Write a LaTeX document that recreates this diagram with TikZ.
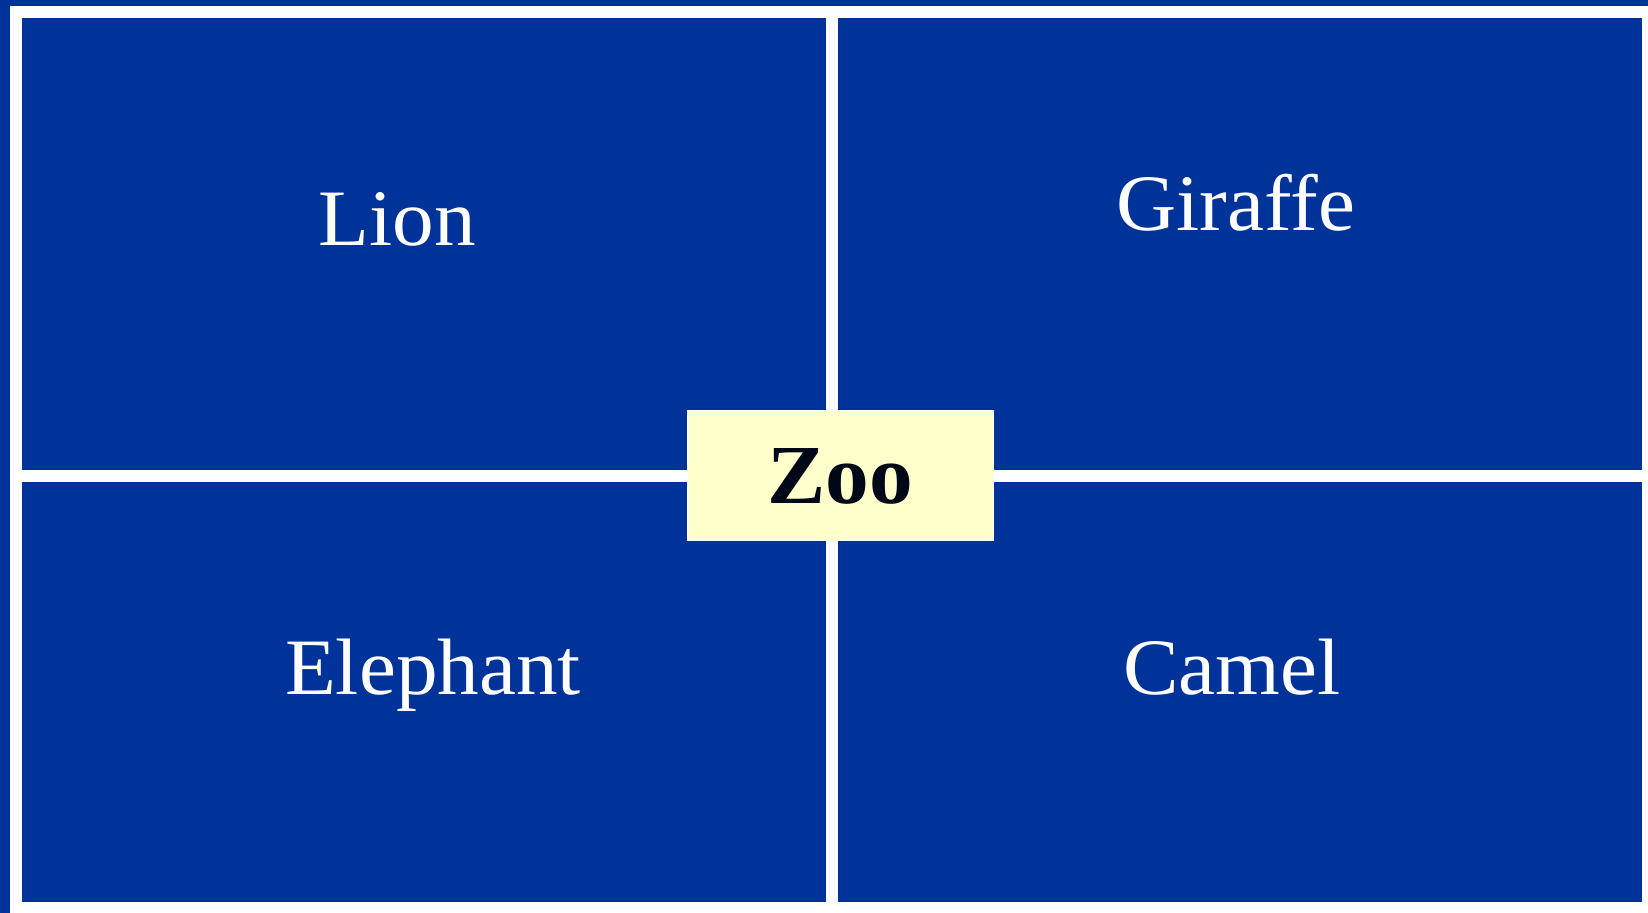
\documentclass[tikz,border=0pt]{standalone}
\usepackage{fontspec}
\setmainfont[FakeStretch=1.04]{Liberation Serif}

\definecolor{zooblue}{RGB}{0,51,153}
\definecolor{zooyellow}{RGB}{255,255,204}
\definecolor{zooink}{RGB}{0,8,24}

\tikzset{
  cage/.style={fill=zooblue, inner sep=0pt, outer sep=0pt, anchor=north west},
  animal/.style={text=white, font=\fontsize{40}{48}\selectfont, anchor=base, inner sep=0pt},
  zoosign/.style={fill=zooyellow, draw=white, line width=0.5pt, minimum width=153pt,
    minimum height=65pt, inner sep=0pt, text=zooink, font=\bfseries\fontsize{42}{50}\selectfont}
}

\begin{document}
\begin{tikzpicture}[x=0.5pt,y=-0.5pt]
\useasboundingbox (0,0) rectangle (1648,913);

% background and white frame
\fill[zooblue] (0,0) rectangle (1648,913);
\fill[white] (10,6) rectangle (1648,913);

% the four cages
\node[cage, minimum width=402pt, minimum height=226pt] (lioncage) at (22,18) {};
\node[cage, minimum width=402pt, minimum height=226pt] (giraffecage) at (838,18) {};
\node[cage, minimum width=402pt, minimum height=210pt] (elephantcage) at (22,482) {};
\node[cage, minimum width=402pt, minimum height=210pt] (camelcage) at (838,482) {};

\node[animal] (lion) at (397,246) {Lion};
\node[animal] (giraffe) at (1236,231) {Giraffe};
\node[animal] (elephant) at (433,694) {Elephant};
\node[animal] (camel) at (1232,694) {Camel};

% sign in the middle
\node[zoosign] (zoo) at (840,476) {Zoo};
\end{tikzpicture}
\end{document}
